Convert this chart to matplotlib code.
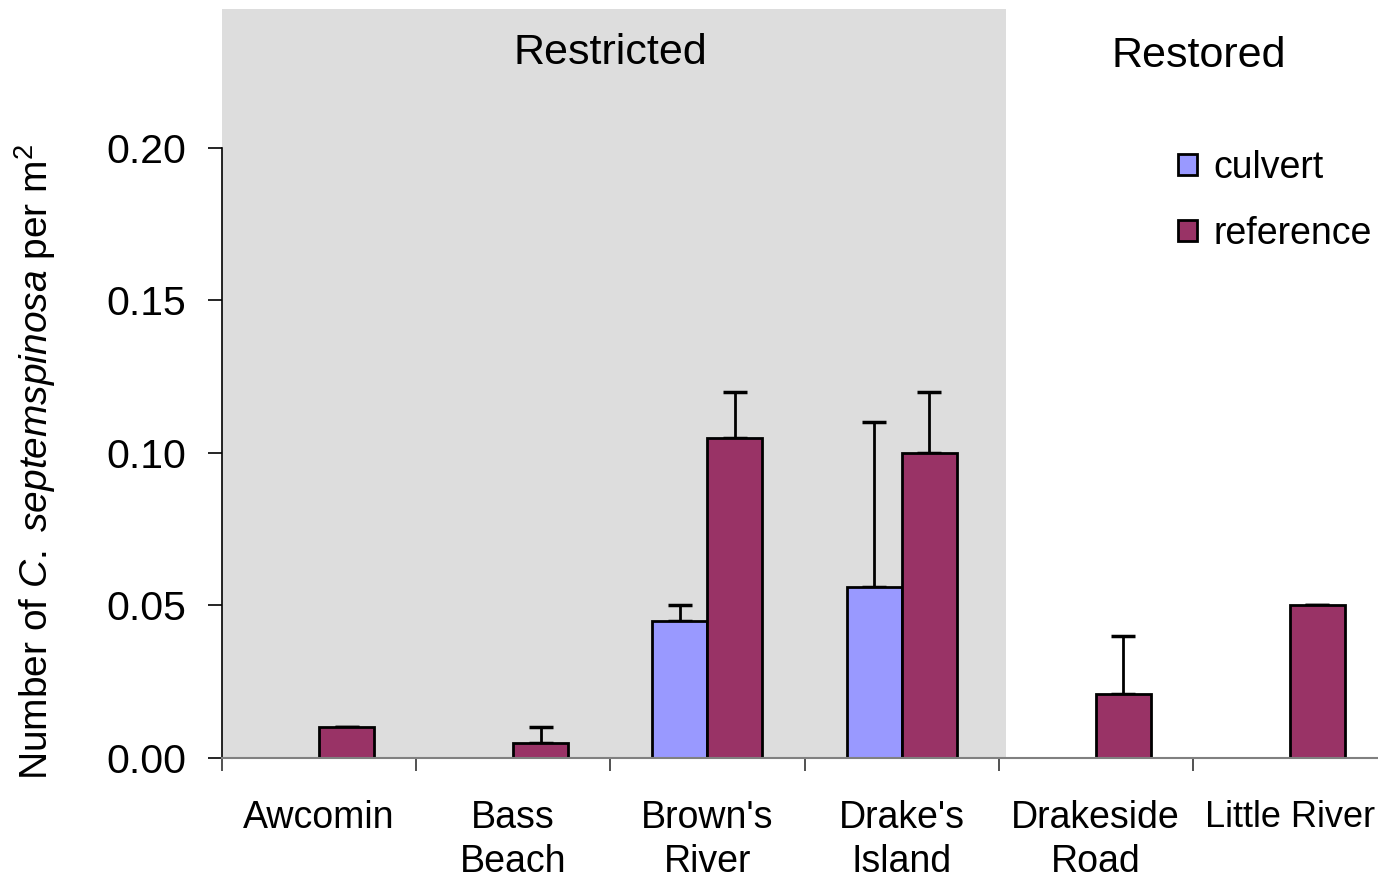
import matplotlib
matplotlib.use("Agg")
import matplotlib.pyplot as plt
import numpy as np

plt.rcParams['font.family'] = ['Liberation Sans', 'DejaVu Sans']
plt.rcParams['mathtext.fontset'] = 'custom'
plt.rcParams['mathtext.rm'] = 'Liberation Sans'
plt.rcParams['mathtext.it'] = 'Liberation Sans:italic'

# data
sites = ["Awcomin", "Bass\nBeach", "Brown's\nRiver", "Drake's\nIsland", "Drakeside\nRoad", "Little River"]
culvert = [0.0, 0.0, 0.045, 0.056, 0.0, 0.0]
culvert_err = [0.0, 0.0, 0.005, 0.054, 0.0, 0.0]
reference = [0.01, 0.005, 0.105, 0.10, 0.021, 0.05]
reference_err = [0.0, 0.005, 0.015, 0.02, 0.019, 0.0]
yticks = [0.0, 0.05, 0.10, 0.15, 0.20]

col_culv = '#9999FF'
col_ref = '#993366'
fs = 28

fig = plt.figure(figsize=(13.78, 8.82), dpi=100)
ax = fig.add_axes([222/1378, 1-758/882, (1387-222)/1378, (758-9)/882])

x = np.arange(len(sites))
w = 0.283

# grey "Restricted" block
ax.axvspan(-0.5, 3.54, color='#DDDDDD', zorder=0, lw=0)

ax.bar(x - w/2, culvert, w, color=col_culv, edgecolor='black', linewidth=2, label='culvert', zorder=2)
ax.bar(x + w/2, reference, w, color=col_ref, edgecolor='black', linewidth=2, label='reference', zorder=2)

# upward-only error bars
c_idx = [i for i in range(len(sites)) if culvert[i] > 0]
ax.errorbar(x[c_idx] - w/2, [culvert[i] for i in c_idx],
            yerr=[[0]*len(c_idx), [culvert_err[i] for i in c_idx]],
            fmt='none', ecolor='black', elinewidth=2, capsize=8.5, capthick=2.5, zorder=1)
ax.errorbar(x + w/2, reference, yerr=[[0]*len(x), reference_err],
            fmt='none', ecolor='black', elinewidth=2, capsize=8.5, capthick=2.5, zorder=1)

ax.set_xlim(-0.5, 5.5)
ax.set_ylim(0, 0.2455)
ax.set_yticks(yticks)
ax.set_yticklabels(['%.2f' % v for v in yticks], fontsize=29.5)
ax.tick_params(axis='y', length=10, width=1.2, pad=16)

ax.set_xticks(x)
labels = ax.set_xticklabels(sites, fontsize=27, linespacing=1.3)
labels[-1].set_fontsize(26)
ax.tick_params(axis='x', length=0, pad=30)
ax.set_xticks(np.arange(-0.5, 6, 1), minor=True)
ax.tick_params(axis='x', which='minor', length=9, width=1.2, color='#333333')

for s in ['top', 'right']:
    ax.spines[s].set_visible(False)
ax.spines['left'].set_bounds(0, 0.2)
ax.spines['left'].set_linewidth(1.2)
ax.spines['bottom'].set_color('#808080')
ax.spines['bottom'].set_linewidth(1.5)

ax.text(1.5, 0.231, 'Restricted', ha='center', va='center', fontsize=31)
ax.text(4.53, 0.230, 'Restored', ha='center', va='center', fontsize=31)

fig.text(35/1378, 1-462/882, r'Number of $\mathit{C.}$ $\mathit{septemspinosa}$ per m$^2$',
         rotation=90, ha='center', va='center', fontsize=fs)

ax.legend(loc='upper left', bbox_to_anchor=(1178/1378, 1-150/882),
          bbox_transform=fig.transFigure, frameon=False, fontsize=27,
          handlelength=0.5, handleheight=0.5, handletextpad=0.45,
          labelspacing=0.8, borderpad=0, borderaxespad=0)

fig.savefig('out.png', dpi=100)
